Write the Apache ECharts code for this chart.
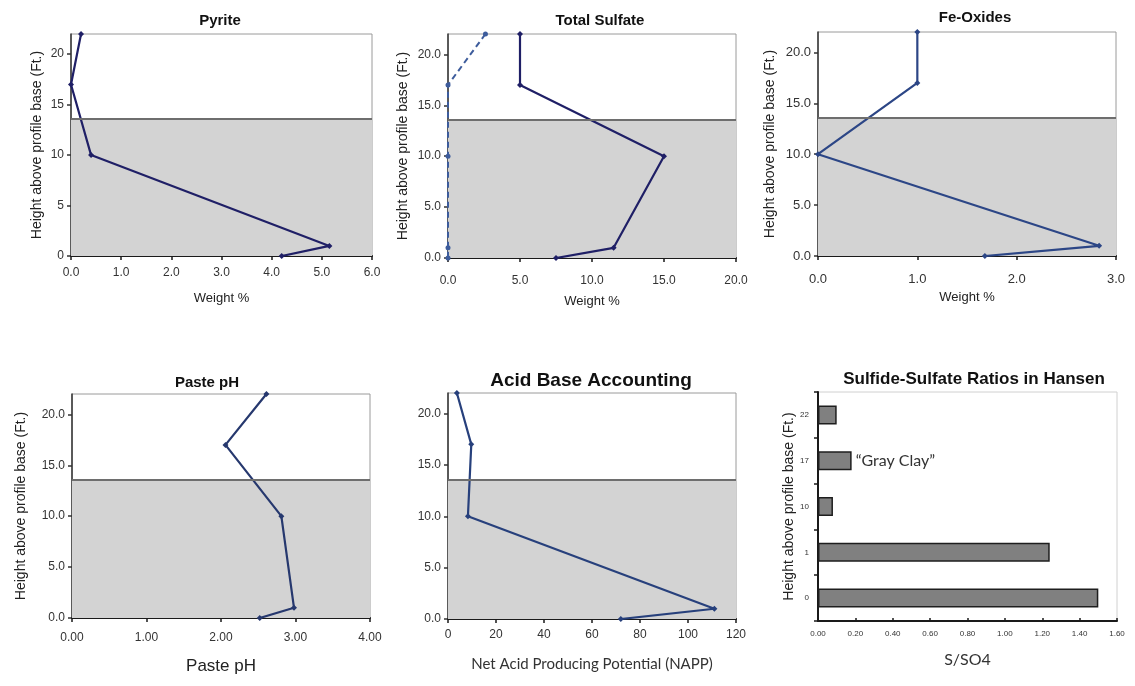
<!DOCTYPE html>
<html>
<head>
<meta charset="utf-8">
<script src="https://cdn.jsdelivr.net/npm/echarts@6/dist/echarts.min.js"></script>
<style>
  html, body { margin: 0; padding: 0; background: #ffffff; }
  #chart { width: 1135px; height: 686px; }
</style>
</head>
<body>
<div id="chart"></div>
<script>
// Sample heights (ft above profile base), top of profile first
const heights = [22, 17, 10, 1, 0];

// Profile measurements at each height
const pyrite = [0.2, 0.0, 0.4, 5.15, 4.2];
const sulfateTotal = [5.0, 5.0, 15.0, 11.5, 7.5];
const sulfateMinor = [2.6, 0.0, 0.0, 0.0, 0.0];
const feOxides = [1.0, 1.0, 0.0, 2.83, 1.68];
const pastePH = [2.61, 2.06, 2.81, 2.98, 2.52];
const napp = [3.7, 9.7, 8.3, 111, 72];

// Sulfide / sulfate ratios by sample height
const ratioHeights = ['0', '1', '10', '17', '22'];
const ratios = [1.50, 1.24, 0.08, 0.18, 0.10];
const clayNote = '\u201CGray Clay\u201D';

// Top of the gray clay unit (ft)
const clayTop = 13.6;

const SANS = 'Liberation Sans, Arial, sans-serif';
const HUMAN = 'Lato, Open Sans, sans-serif';
const Y_NAME = 'Height above profile base (Ft.)';

const pairs = (xs) => xs.map((x, i) => [x, heights[i]]);

const grids = [
  { left: 71,  top: 34,  width: 301, height: 222 },
  { left: 448, top: 34,  width: 288, height: 224 },
  { left: 818, top: 32,  width: 298, height: 224 },
  { left: 72,  top: 394, width: 298, height: 224 },
  { left: 448, top: 393, width: 288, height: 226 },
  { left: 818, top: 392, width: 299, height: 229, borderColor: '#d0d0d0' }
].map(g => Object.assign({ show: true, borderColor: '#9a9a9a', borderWidth: 1, containLabel: false }, g));

function xValueAxis(idx, max, interval, digits, opt) {
  opt = opt || {};
  return {
    type: 'value', gridIndex: idx, min: 0, max: max, interval: interval,
    splitLine: { show: false },
    axisLine: { show: true, onZero: false, lineStyle: { color: '#1a1a1a', width: 2 } },
    axisTick: { show: true, length: 4, lineStyle: { color: '#1a1a1a', width: 1.5 } },
    axisLabel: {
      margin: opt.margin || 10, color: '#333', fontFamily: SANS, fontSize: opt.labelSize || 12,
      formatter: v => v.toFixed(digits)
    },
    name: opt.name || '', nameLocation: 'middle', nameGap: opt.nameGap || 36,
    nameTextStyle: Object.assign({ color: '#222', fontFamily: SANS, fontSize: 13 }, opt.nameStyle || {})
  };
}

function yHeightAxis(idx, digits, opt) {
  opt = opt || {};
  return {
    type: 'value', gridIndex: idx, min: 0, max: 22, interval: 5,
    splitLine: { show: false },
    axisLine: { show: true, onZero: false, lineStyle: { color: '#333', width: 1.5 } },
    axisTick: { show: true, length: 4, lineStyle: { color: '#333', width: 1.5 } },
    axisLabel: {
      margin: 7, color: '#333', fontFamily: SANS, fontSize: opt.labelSize || 12, showMaxLabel: false,
      formatter: v => (v === 22 ? '' : v.toFixed(digits))
    },
    name: opt.noName ? '' : Y_NAME, nameLocation: 'middle', nameGap: opt.nameGap || 30,
    nameTextStyle: { color: '#222', fontFamily: SANS, fontSize: 14 }
  };
}

// Gray clay band and its upper contact, drawn behind each profile line
const clayBand = {
  silent: true,
  itemStyle: { color: '#d3d3d3' },
  data: [[{ yAxis: 0 }, { yAxis: clayTop }]]
};
const clayContact = {
  silent: true, symbol: 'none', label: { show: false },
  lineStyle: { color: '#6e6e6e', width: 2, type: 'solid' },
  data: [{ yAxis: clayTop }]
};

function profileSeries(idx, values, color, withBand, extra) {
  const s = {
    type: 'line', xAxisIndex: idx, yAxisIndex: idx,
    data: pairs(values),
    symbol: 'diamond', symbolSize: 6,
    lineStyle: { color: color, width: 2.2 },
    itemStyle: { color: color },
    z: 3
  };
  if (withBand) { s.markArea = clayBand; s.markLine = clayContact; }
  return Object.assign(s, extra || {});
}

const titleBase = { padding: 0, textAlign: 'center', textStyle: { fontFamily: SANS, fontWeight: 'bold', color: '#111' } };
const mkTitle = (text, cx, top, size) =>
  Object.assign({}, titleBase, { text: text, left: cx, top: top,
    textStyle: Object.assign({}, titleBase.textStyle, { fontSize: size }) });

const option = {
  animation: false,
  backgroundColor: '#ffffff',
  title: [
    mkTitle('Pyrite', 220, 13, 15),
    mkTitle('Total Sulfate', 600, 13, 15),
    mkTitle('Fe-Oxides', 975, 10, 15),
    mkTitle('Paste pH', 207, 375, 15),
    mkTitle('Acid Base Accounting', 591, 371, 19),
    mkTitle('Sulfide-Sulfate Ratios in Hansen', 974, 371, 17)
  ],
  grid: grids,
  xAxis: [
    xValueAxis(0, 6, 1, 1, { margin: 11, name: 'Weight %', nameGap: 36 }),
    xValueAxis(1, 20, 5, 1, { margin: 17, name: 'Weight %', nameGap: 37 }),
    xValueAxis(2, 3, 1, 1, { margin: 17, labelSize: 13, name: 'Weight %', nameGap: 35 }),
    xValueAxis(3, 4, 1, 2, { margin: 14, name: 'Paste pH', nameGap: 40,
      nameStyle: { fontFamily: 'Liberation Sans Narrow, Arial Narrow, ' + SANS, fontSize: 17 } }),
    xValueAxis(4, 120, 20, 0, { margin: 10, name: 'Net Acid Producing Potential (NAPP)', nameGap: 38,
      nameStyle: { fontFamily: HUMAN, fontSize: 15, color: '#333' } }),
    Object.assign(xValueAxis(5, 1.6, 0.2, 2, { margin: 9, labelSize: 8, name: 'S/SO4', nameGap: 31,
      nameStyle: { fontFamily: HUMAN, fontSize: 16, color: '#333' } }),
      { axisTick: { show: true, length: 3, inside: true, lineStyle: { color: '#1a1a1a', width: 1.5 } } })
  ],
  yAxis: [
    yHeightAxis(0, 0, { nameGap: 27 }),
    yHeightAxis(1, 1, { nameGap: 38 }),
    yHeightAxis(2, 1, { nameGap: 41, labelSize: 13 }),
    yHeightAxis(3, 1, { nameGap: 44 }),
    yHeightAxis(4, 1, { noName: true }),
    {
      type: 'category', gridIndex: 5, data: ratioHeights,
      axisLine: { show: true, lineStyle: { color: '#1a1a1a', width: 2 } },
      axisTick: { show: true, length: 4, lineStyle: { color: '#1a1a1a', width: 1.5 } },
      axisLabel: { margin: 9, color: '#333', fontFamily: SANS, fontSize: 8 },
      name: Y_NAME, nameLocation: 'middle', nameGap: 22,
      nameTextStyle: { color: '#222', fontFamily: SANS, fontSize: 14 }
    }
  ],
  series: [
    profileSeries(0, pyrite, '#1f1f66', true),
    profileSeries(1, sulfateTotal, '#1f1f66', true),
    profileSeries(1, sulfateMinor, '#3d5c9c', false, {
      symbol: 'circle', symbolSize: 5,
      lineStyle: { color: '#3d5c9c', width: 2, type: [6, 4] }
    }),
    profileSeries(2, feOxides, '#2c4686', true),
    profileSeries(3, pastePH, '#26386e', true),
    profileSeries(4, napp, '#27407c', true),
    {
      type: 'bar', xAxisIndex: 5, yAxisIndex: 5,
      barWidth: 19,
      itemStyle: { color: '#808080', borderColor: '#1e1e1e', borderWidth: 1.5 },
      data: ratios.map((v, i) => (ratioHeights[i] === '17'
        ? { value: v, label: { show: true, position: 'right', distance: 4, formatter: clayNote,
            fontFamily: HUMAN, fontSize: 16, color: '#333' } }
        : v))
    }
  ]
};

const chart = echarts.init(document.getElementById('chart'), null, { renderer: 'canvas' });
chart.setOption(option);
</script>
</body>
</html>
